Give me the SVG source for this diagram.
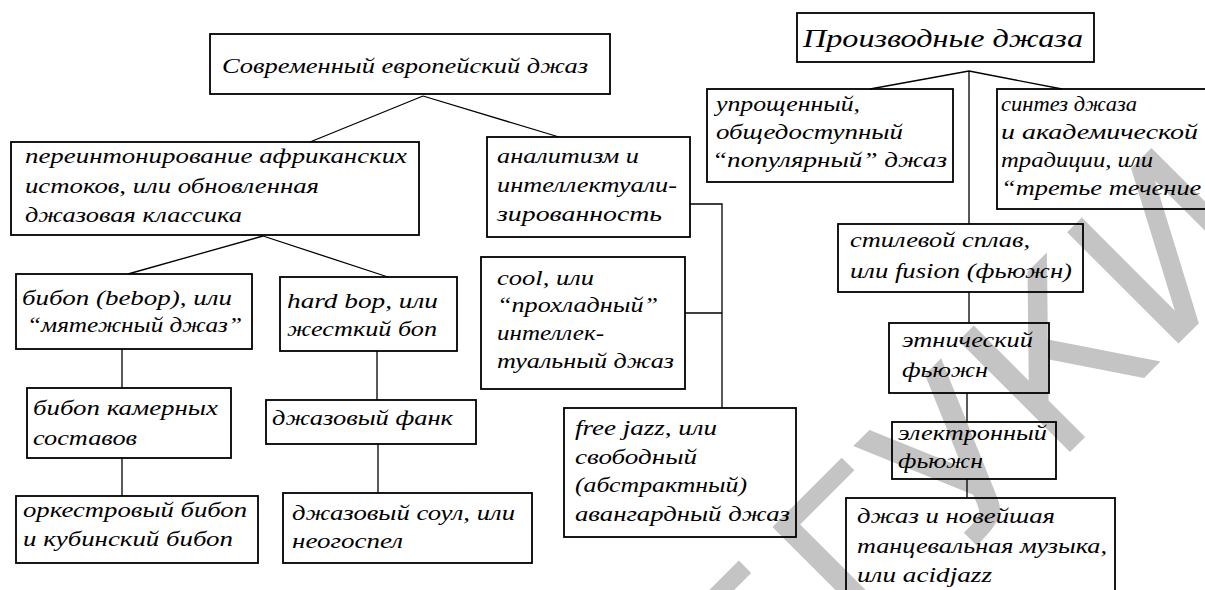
<svg xmlns="http://www.w3.org/2000/svg" width="1205" height="590" viewBox="0 0 1205 590">
<style>
.bx{fill:none;stroke:#000;stroke-width:1.8}
.t{font-family:"Liberation Serif","DejaVu Serif",serif;font-style:italic;font-size:22px;fill:#000}
.big{font-size:26px}
.c{stroke:#000;stroke-width:1.3;fill:none}
.wm{font-family:"DejaVu Sans","Liberation Sans",sans-serif;font-size:216px;fill:#c4c4c4}
</style>
<rect width="1205" height="590" fill="#fff"/>
<g id="watermark">
<text class="wm" transform="translate(764,758) rotate(-45)">БГУКИ</text>
</g>
<g id="connectors">
<path class="c" d="M423,96 L310,142 M423,96 L559,137"/>
<path class="c" d="M263,236 L128,274 M263,236 L388,277"/>
<path class="c" d="M122,349 V388 M122,458 V496"/>
<path class="c" d="M377,351 V400 M378,444 V493"/>
<path class="c" d="M690,204 H722 V408 M685,313 H722"/>
<path class="c" d="M969,71 L870,89 M969,71 L1062,89 M969,71 V224"/>
<path class="c" d="M969,292 V323 M967,393 V422 M967,479 V498"/>
</g>
<g id="n-modern-european">
<rect class="bx" x="210" y="34" width="400" height="60"/>
<text class="t" x="222" y="73" textLength="366" lengthAdjust="spacingAndGlyphs">Современный европейский джаз</text>
</g>
<g id="n-reintonation">
<rect class="bx" x="11" y="142" width="408" height="93"/>
<text class="t" x="25" y="163" textLength="382" lengthAdjust="spacingAndGlyphs">переинтонирование африканских</text>
<text class="t" x="25" y="193" textLength="294" lengthAdjust="spacingAndGlyphs">истоков, или обновленная</text>
<text class="t" x="25" y="222" textLength="217" lengthAdjust="spacingAndGlyphs">джазовая классика</text>
</g>
<g id="n-analytism">
<rect class="bx" x="487" y="137" width="203" height="100"/>
<text class="t" x="497" y="163" textLength="142" lengthAdjust="spacingAndGlyphs">аналитизм и</text>
<text class="t" x="497" y="192" textLength="180" lengthAdjust="spacingAndGlyphs">интеллектуали-</text>
<text class="t" x="497" y="221" textLength="165" lengthAdjust="spacingAndGlyphs">зированность</text>
</g>
<g id="n-bebop">
<rect class="bx" x="16" y="274" width="236" height="75"/>
<text class="t" x="22" y="305" textLength="210" lengthAdjust="spacingAndGlyphs">бибоп (bebop), или</text>
<text class="t" x="27" y="332" textLength="215" lengthAdjust="spacingAndGlyphs">“мятежный джаз”</text>
</g>
<g id="n-hardbop">
<rect class="bx" x="280" y="277" width="177" height="74"/>
<text class="t" x="287" y="308" textLength="151" lengthAdjust="spacingAndGlyphs">hard bop, или</text>
<text class="t" x="287" y="336" textLength="150" lengthAdjust="spacingAndGlyphs">жесткий боп</text>
</g>
<g id="n-chamber">
<rect class="bx" x="27" y="388" width="204" height="70"/>
<text class="t" x="33" y="415" textLength="185" lengthAdjust="spacingAndGlyphs">бибоп камерных</text>
<text class="t" x="33" y="445" textLength="104" lengthAdjust="spacingAndGlyphs">составов</text>
</g>
<g id="n-orchestral">
<rect class="bx" x="16" y="496" width="242" height="67"/>
<text class="t" x="23" y="517" textLength="224" lengthAdjust="spacingAndGlyphs">оркестровый бибоп</text>
<text class="t" x="23" y="546" textLength="210" lengthAdjust="spacingAndGlyphs">и кубинский бибоп</text>
</g>
<g id="n-funk">
<rect class="bx" x="266" y="400" width="210" height="44"/>
<text class="t" x="272" y="425" textLength="181" lengthAdjust="spacingAndGlyphs">джазовый фанк</text>
</g>
<g id="n-soul">
<rect class="bx" x="283" y="493" width="249" height="70"/>
<text class="t" x="292" y="520" textLength="223" lengthAdjust="spacingAndGlyphs">джазовый соул, или</text>
<text class="t" x="292" y="548" textLength="111" lengthAdjust="spacingAndGlyphs">неогоспел</text>
</g>
<g id="n-cool">
<rect class="bx" x="481" y="257" width="204" height="132"/>
<text class="t" x="497" y="285" textLength="97" lengthAdjust="spacingAndGlyphs">cool, или</text>
<text class="t" x="497" y="312" textLength="161" lengthAdjust="spacingAndGlyphs">“прохладный”</text>
<text class="t" x="497" y="340" textLength="107" lengthAdjust="spacingAndGlyphs">интеллек-</text>
<text class="t" x="497" y="368" textLength="177" lengthAdjust="spacingAndGlyphs">туальный джаз</text>
</g>
<g id="n-freejazz">
<rect class="bx" x="564" y="408" width="232" height="129"/>
<text class="t" x="575" y="435" textLength="142" lengthAdjust="spacingAndGlyphs">free jazz, или</text>
<text class="t" x="575" y="464" textLength="122" lengthAdjust="spacingAndGlyphs">свободный</text>
<text class="t" x="575" y="492" textLength="172" lengthAdjust="spacingAndGlyphs">(абстрактный)</text>
<text class="t" x="575" y="521" textLength="215" lengthAdjust="spacingAndGlyphs">авангардный джаз</text>
</g>
<g id="n-derivatives">
<rect class="bx" x="797" y="13" width="297" height="49"/>
<text class="t big" x="803" y="47" textLength="280" lengthAdjust="spacingAndGlyphs">Производные джаза</text>
</g>
<g id="n-popular">
<rect class="bx" x="707" y="89" width="246" height="93"/>
<text class="t" x="716" y="111" textLength="144" lengthAdjust="spacingAndGlyphs">упрощенный,</text>
<text class="t" x="716" y="139" textLength="187" lengthAdjust="spacingAndGlyphs">общедоступный</text>
<text class="t" x="712" y="167" textLength="235" lengthAdjust="spacingAndGlyphs">“популярный” джаз</text>
</g>
<g id="n-thirdstream">
<rect class="bx" x="997" y="89" width="220" height="120"/>
<text class="t" x="1001" y="111" textLength="136" lengthAdjust="spacingAndGlyphs">синтез джаза</text>
<text class="t" x="1001" y="139" textLength="197" lengthAdjust="spacingAndGlyphs">и академической</text>
<text class="t" x="1001" y="167" textLength="152" lengthAdjust="spacingAndGlyphs">традиции, или</text>
<text class="t" x="1001" y="195" textLength="215" lengthAdjust="spacingAndGlyphs">“третье течение”</text>
</g>
<g id="n-fusion">
<rect class="bx" x="838" y="224" width="245" height="68"/>
<text class="t" x="850" y="247" textLength="180" lengthAdjust="spacingAndGlyphs">стилевой сплав,</text>
<text class="t" x="850" y="278" textLength="222" lengthAdjust="spacingAndGlyphs">или fusion (фьюжн)</text>
</g>
<g id="n-ethnic">
<rect class="bx" x="889" y="323" width="160" height="70"/>
<text class="t" x="902" y="347" textLength="131" lengthAdjust="spacingAndGlyphs">этнический</text>
<text class="t" x="902" y="377" textLength="86" lengthAdjust="spacingAndGlyphs">фьюжн</text>
</g>
<g id="n-electronic">
<rect class="bx" x="892" y="422" width="164" height="57"/>
<text class="t" x="898" y="440" textLength="149" lengthAdjust="spacingAndGlyphs">электронный</text>
<text class="t" x="898" y="468" textLength="85" lengthAdjust="spacingAndGlyphs">фьюжн</text>
</g>
<g id="n-acidjazz">
<rect class="bx" x="846" y="498" width="269" height="100"/>
<text class="t" x="857" y="523" textLength="198" lengthAdjust="spacingAndGlyphs">джаз и новейшая</text>
<text class="t" x="857" y="553" textLength="250" lengthAdjust="spacingAndGlyphs">танцевальная музыка,</text>
<text class="t" x="857" y="582" textLength="135" lengthAdjust="spacingAndGlyphs">или acidjazz</text>
</g>
</svg>
